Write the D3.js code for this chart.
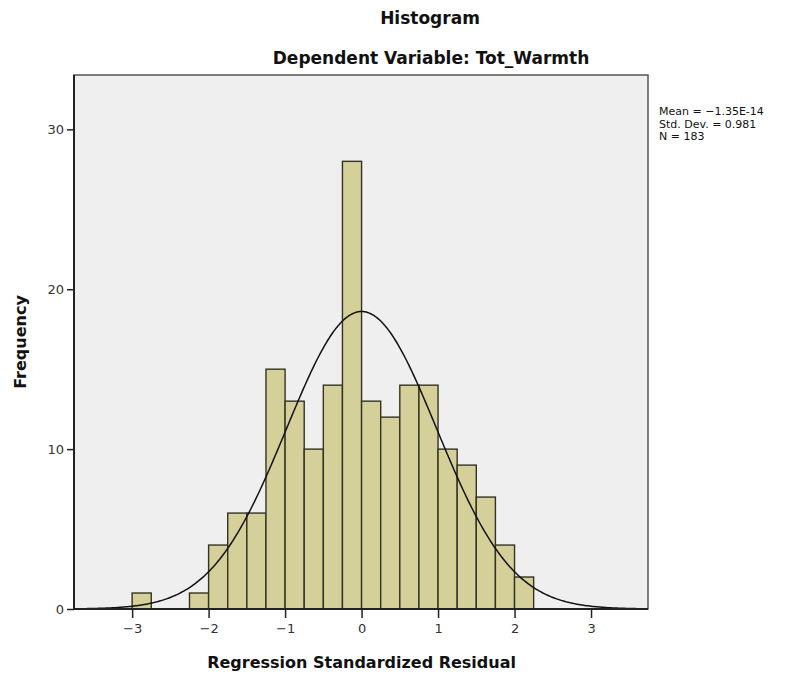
<!DOCTYPE html>
<html>
<head>
<meta charset="utf-8">
<script src="https://cdn.jsdelivr.net/npm/d3@7"></script>
<style>
  body { margin: 0; background: #fff; }
  text { font-family: "DejaVu Sans", sans-serif; }
</style>
</head>
<body>
<div id="chart"></div>
<script>
// histogram bins (lower edge) and their frequencies
var binLower = [-3.0, -2.75, -2.5, -2.25, -2.0, -1.75, -1.5, -1.25, -1.0, -0.75, -0.5, -0.25,
                0.0, 0.25, 0.5, 0.75, 1.0, 1.25, 1.5, 1.75, 2.0];
var counts = [1, 0, 0, 1, 4, 6, 6, 15, 13, 10, 14, 28, 13, 12, 14, 14, 10, 9, 7, 4, 2];
var binWidth = 0.25;
var xTicks = [-3, -2, -1, 0, 1, 2, 3];
var yTicks = [0, 10, 20, 30];
var stats = { mean: -1.35e-14, sd: 0.981, n: 183 };
var statLines = ["Mean = \u22121.35E-14", "Std. Dev. = 0.981", "N = 183"];

var width = 798, height = 674;
var margin = ({ top: 75, right: 150, bottom: 65, left: 74 });

var svg = d3.select("#chart").append("svg")
    .attr("width", width)
    .attr("height", height);

var x = d3.scaleLinear()
    .domain([-3.76, 3.745])
    .range([margin.left, width - margin.right]);

var y = d3.scaleLinear()
    .domain([0, 33.4])
    .range([height - margin.bottom, margin.top]);

// plot background
svg.append("rect")
    .attr("x", x.range()[0])
    .attr("y", y.range()[1])
    .attr("width", x.range()[1] - x.range()[0])
    .attr("height", y.range()[0] - y.range()[1])
    .attr("fill", "#efefef")
    .attr("stroke", "#555")
    .attr("stroke-width", 1.5);

var data = binLower.map((d, i) => ({ x0: d, x1: d + binWidth, count: counts[i] }))
    .filter(d => d.count > 0);

svg.append("g").selectAll("rect")
    .data(data)
    .enter().append("rect")
    .attr("x", d => x(d.x0))
    .attr("y", d => y(d.count))
    .attr("width", d => x(d.x1) - x(d.x0))
    .attr("height", d => y(0) - y(d.count))
    .attr("fill", "#d5d09a")
    .attr("stroke", "#33331f")
    .attr("stroke-width", 1.4);

// fitted normal curve
var scaleFactor = stats.n * binWidth / (stats.sd * Math.sqrt(2 * Math.PI));
var curve = d3.range(x.domain()[0], x.domain()[1], 0.02).concat([x.domain()[1]])
    .map(v => [v, scaleFactor * Math.exp(-0.5 * Math.pow((v - stats.mean) / stats.sd, 2))]);

svg.append("path")
    .datum(curve)
    .attr("fill", "none")
    .attr("stroke", "#111")
    .attr("stroke-width", 1.5)
    .attr("d", d3.line().x(d => x(d[0])).y(d => y(d[1])));

// axes
svg.append("g")
    .attr("transform", `translate(0, ${y(0)})`)
    .call(d3.axisBottom(x).tickValues(xTicks).tickSize(9).tickPadding(6)
        .tickFormat(d => d < 0 ? "\u2212" + Math.abs(d) : d))
    .call(g => g.select(".domain").remove())
    .call(g => g.selectAll(".tick line").attr("stroke", "#222").attr("stroke-width", 1.5))
    .call(g => g.selectAll(".tick text").attr("fill", "#333").style("font-size", "13px"));

svg.append("g")
    .attr("transform", `translate(${x.range()[0]}, 0)`)
    .call(d3.axisLeft(y).tickValues(yTicks).tickSize(7).tickPadding(3))
    .call(g => g.select(".domain").remove())
    .call(g => g.selectAll(".tick line").attr("stroke", "#222").attr("stroke-width", 1.5))
    .call(g => g.selectAll(".tick text").attr("fill", "#333").style("font-size", "13px"));

// axis lines (left + bottom darker)
svg.append("line")
    .attr("x1", x.range()[0]).attr("x2", x.range()[1])
    .attr("y1", y(0)).attr("y2", y(0))
    .attr("stroke", "#222").attr("stroke-width", 2);
svg.append("line")
    .attr("x1", x.range()[0]).attr("x2", x.range()[0])
    .attr("y1", y(0)).attr("y2", y.range()[1])
    .attr("stroke", "#222").attr("stroke-width", 2);

// titles
svg.append("text")
    .attr("x", 430).attr("y", 24)
    .attr("text-anchor", "middle")
    .style("font-size", "17px").style("font-weight", "bold")
    .attr("fill", "#111")
    .text("Histogram");

svg.append("text")
    .attr("x", 431).attr("y", 64)
    .attr("text-anchor", "middle")
    .style("font-size", "17px").style("font-weight", "bold")
    .attr("fill", "#111")
    .text("Dependent Variable: Tot_Warmth");

svg.append("text")
    .attr("x", x(0)).attr("y", 668)
    .attr("text-anchor", "middle")
    .style("font-size", "16px").style("font-weight", "bold")
    .attr("fill", "#111")
    .text("Regression Standardized Residual");

svg.append("text")
    .attr("transform", `translate(26, ${(y.range()[0] + y.range()[1]) / 2}) rotate(-90)`)
    .attr("text-anchor", "middle")
    .style("font-size", "16px").style("font-weight", "bold")
    .attr("fill", "#111")
    .text("Frequency");

// stats legend
svg.append("g").selectAll("text")
    .data(statLines)
    .enter().append("text")
    .attr("x", 659)
    .attr("y", (d, i) => 115 + i * 12.5)
    .style("font-size", "11px")
    .attr("fill", "#111")
    .text(d => d);
</script>
</body>
</html>
